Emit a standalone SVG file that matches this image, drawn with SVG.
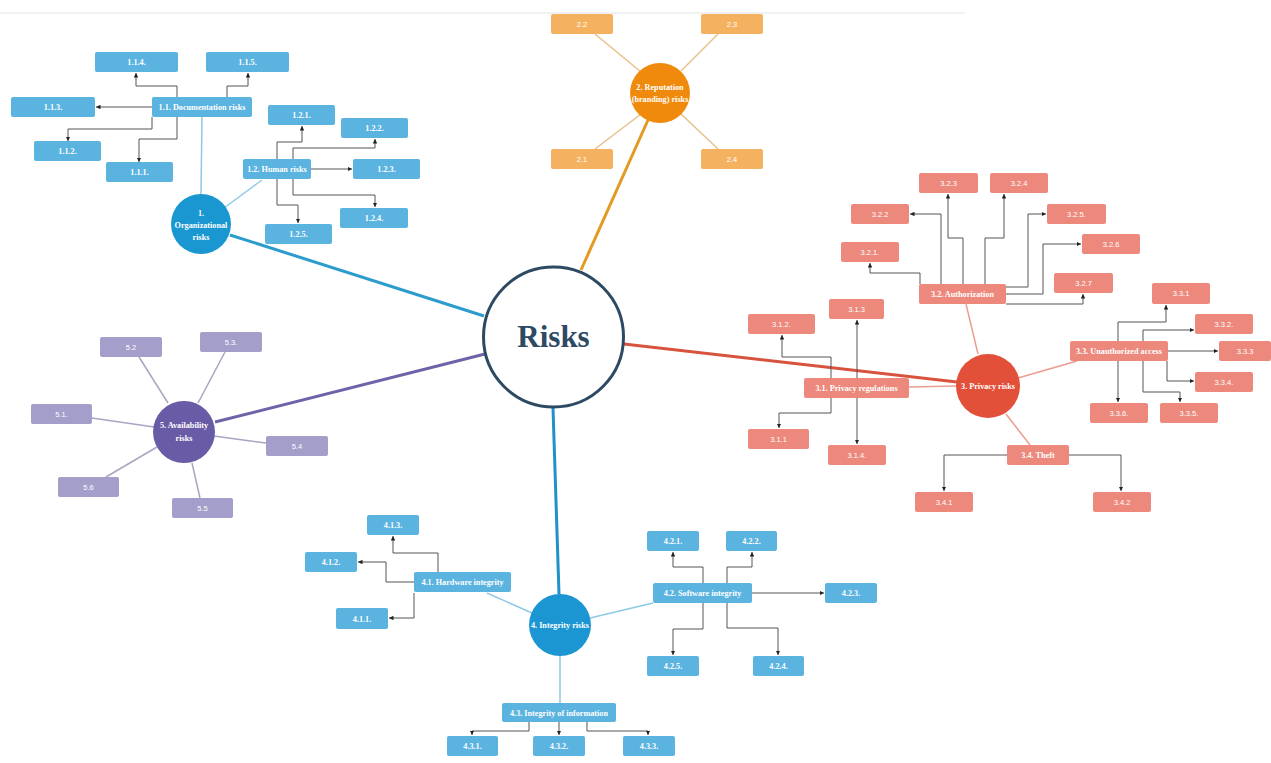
<svg xmlns="http://www.w3.org/2000/svg" width="1271" height="763" viewBox="0 0 1271 763">
<defs>
<marker id="a" viewBox="0 0 6 6" refX="6" refY="3" markerWidth="4.5" markerHeight="4.5" markerUnits="userSpaceOnUse" orient="auto"><path d="M0,0 L6,3 L0,6 z" fill="#222"/></marker>
</defs>
<style>
.bb{fill:#5bb3df}
.rb{fill:#ec897c}
.ob{fill:#f4b260}
.pb{fill:#a49ecb}
.t{font-family:"Liberation Serif",serif;font-size:8.2px;font-weight:bold;fill:#fff;text-anchor:middle}
.s{font-family:"Liberation Sans",sans-serif;font-size:7.5px;fill:#fff;text-anchor:middle}
.c{fill:none;stroke:#555;stroke-width:1;marker-end:url(#a)}
.lb{stroke:#8ec9e6;stroke-width:1.5;fill:none}
.lr{stroke:#eb9d90;stroke-width:1.5;fill:none}
.lo{stroke:#e8c08a;stroke-width:1.5;fill:none}
.lp{stroke:#a9a4c2;stroke-width:1.5;fill:none}
.ct{font-family:"Liberation Serif",serif;font-size:8.2px;font-weight:bold;fill:#fff;text-anchor:middle}
</style>
<rect width="1271" height="763" fill="#fff"/>
<line x1="0" y1="13" x2="965" y2="13" stroke="#e3e3e3" stroke-width="1"/>

<g id="connectors">
<line x1="230" y1="235" x2="484" y2="316" stroke="#2b9ccc" stroke-width="3"/>
<line x1="581" y1="270" x2="648" y2="120" stroke="#e39a22" stroke-width="3"/>
<line x1="624" y1="344" x2="957" y2="382" stroke="#d7533d" stroke-width="3"/>
<line x1="553" y1="408" x2="559" y2="594" stroke="#2191c9" stroke-width="3"/>
<line x1="485" y1="354" x2="215" y2="422" stroke="#6d63a8" stroke-width="3"/>
<line class="lb" x1="202" y1="117" x2="201" y2="194"/>
<line class="lb" x1="262" y1="180" x2="224" y2="208"/>
<polyline class="c" points="177,97 177,86 136,86 136,73"/>
<polyline class="c" points="227,97 227,86 248,86 248,73"/>
<polyline class="c" points="152,107 96,107"/>
<polyline class="c" points="152,117 152,129 68,129 68,141"/>
<polyline class="c" points="177,117 177,139 139,139 139,162"/>
<polyline class="c" points="277,159 277,142 302,142 302,126"/>
<polyline class="c" points="293,159 293,148 375,148 375,139"/>
<polyline class="c" points="311,169 352,169"/>
<polyline class="c" points="293,179 293,195 375,195 375,207"/>
<polyline class="c" points="277,179 277,205 298,205 298,223"/>
<line class="lo" x1="595" y1="34" x2="641" y2="72"/>
<line class="lo" x1="718" y1="34" x2="681" y2="71"/>
<line class="lo" x1="595" y1="149" x2="641" y2="114"/>
<line class="lo" x1="718" y1="149" x2="681" y2="114"/>
<line class="lr" x1="909" y1="387" x2="956" y2="386"/>
<line class="lr" x1="966" y1="304" x2="978" y2="354"/>
<line class="lr" x1="1077" y1="361" x2="1018" y2="378"/>
<line class="lr" x1="1030" y1="445" x2="1006" y2="414"/>
<polyline class="c" points="831,378 831,357 782,357 782,335"/>
<polyline class="c" points="857,378 857,320"/>
<polyline class="c" points="831,398 831,413 779,413 779,428"/>
<polyline class="c" points="857,398 857,444"/>
<polyline class="c" points="920,284 920,273 870,273 870,263"/>
<polyline class="c" points="941,284 941,214 910,214"/>
<polyline class="c" points="963,284 963,238 948,238 948,194"/>
<polyline class="c" points="985,284 985,238 1004,238 1004,194"/>
<polyline class="c" points="1006,287 1028,287 1028,214 1046,214"/>
<polyline class="c" points="1006,294 1043,294 1043,244 1081,244"/>
<polyline class="c" points="1006,304 1083,304 1083,294"/>
<polyline class="c" points="1118,341 1118,322 1166,322 1166,305"/>
<polyline class="c" points="1143,341 1143,330 1194,330"/>
<polyline class="c" points="1168,351 1218,351"/>
<polyline class="c" points="1167,361 1167,381 1194,381"/>
<polyline class="c" points="1143,361 1143,392 1180,392 1180,402"/>
<polyline class="c" points="1118,361 1118,402"/>
<polyline class="c" points="1007,455 944,455 944,491"/>
<polyline class="c" points="1069,455 1121,455 1121,491"/>
<line class="lb" x1="487" y1="593" x2="532" y2="613"/>
<line class="lb" x1="653" y1="603" x2="590" y2="618"/>
<line class="lb" x1="560" y1="656" x2="560" y2="703"/>
<polyline class="c" points="438,572 438,553 393,553 393,536"/>
<polyline class="c" points="414,582 386,582 386,562 358,562"/>
<polyline class="c" points="414,593 414,618 389,618"/>
<polyline class="c" points="703,583 703,567 673,567 673,552"/>
<polyline class="c" points="727,583 727,567 752,567 752,552"/>
<polyline class="c" points="752,593 824,593"/>
<polyline class="c" points="703,603 703,629 673,629 673,655"/>
<polyline class="c" points="727,603 727,628 778,628 778,655"/>
<polyline class="c" points="529,722 529,731 472,731 472,735"/>
<polyline class="c" points="559,722 559,735"/>
<polyline class="c" points="587,722 587,731 648,731 648,735"/>
<line class="lp" x1="139" y1="357" x2="168" y2="403"/>
<line class="lp" x1="225" y1="352" x2="198" y2="403"/>
<line class="lp" x1="92" y1="418" x2="154" y2="427"/>
<line class="lp" x1="214" y1="436" x2="266" y2="443"/>
<line class="lp" x1="106" y1="477" x2="157" y2="447"/>
<line class="lp" x1="192" y1="463" x2="200" y2="498"/>
</g>

<g id="risks">
<circle cx="553.5" cy="337" r="70" fill="#fff" stroke="#2e4a63" stroke-width="3"/>
<text x="553.5" y="347" font-family="Liberation Serif,serif" font-size="31" font-weight="bold" fill="#2e4a63" text-anchor="middle">Risks</text>
</g>

<g id="n1"><circle cx="201" cy="224" r="30" fill="#1a96d0"/><text class="ct" x="201" y="216">1.</text><text class="ct" x="201" y="228">Organizational</text><text class="ct" x="201" y="240">risks</text></g>
<g id="n1-1"><rect class="bb" x="152" y="97" width="100" height="20" rx="2"/><text class="t" x="202" y="110">1.1. Documentation risks</text></g>
<g id="n1-1-4"><rect class="bb" x="95" y="52" width="83" height="20" rx="2"/><text class="t" x="136.5" y="65">1.1.4.</text></g>
<g id="n1-1-5"><rect class="bb" x="206" y="52" width="83" height="20" rx="2"/><text class="t" x="247.5" y="65">1.1.5.</text></g>
<g id="n1-1-3"><rect class="bb" x="11" y="97" width="84" height="20" rx="2"/><text class="t" x="53" y="110">1.1.3.</text></g>
<g id="n1-1-2"><rect class="bb" x="34" y="141" width="67" height="20" rx="2"/><text class="t" x="67.5" y="154">1.1.2.</text></g>
<g id="n1-1-1"><rect class="bb" x="106" y="162" width="67" height="20" rx="2"/><text class="t" x="139.5" y="175">1.1.1.</text></g>
<g id="n1-2"><rect class="bb" x="243" y="159" width="68" height="20" rx="2"/><text class="t" x="277" y="172">1.2. Human risks</text></g>
<g id="n1-2-1"><rect class="bb" x="268" y="105" width="67" height="20" rx="2"/><text class="t" x="301.5" y="118">1.2.1.</text></g>
<g id="n1-2-2"><rect class="bb" x="341" y="118" width="67" height="20" rx="2"/><text class="t" x="374.5" y="131">1.2.2.</text></g>
<g id="n1-2-3"><rect class="bb" x="353" y="159" width="67" height="20" rx="2"/><text class="t" x="386.5" y="172">1.2.3.</text></g>
<g id="n1-2-4"><rect class="bb" x="340" y="208" width="68" height="20" rx="2"/><text class="t" x="374" y="221">1.2.4.</text></g>
<g id="n1-2-5"><rect class="bb" x="265" y="224" width="67" height="20" rx="2"/><text class="t" x="298.5" y="237">1.2.5.</text></g>

<g id="n2"><circle cx="660" cy="93" r="30" fill="#ef8a0c"/><text class="ct" x="660" y="90">2. Reputation</text><text class="ct" x="660" y="102">(branding) risks</text></g>
<g id="n2-2"><rect class="ob" x="551" y="14" width="62" height="20" rx="2"/><text class="s" x="582" y="26.7">2.2</text></g>
<g id="n2-3"><rect class="ob" x="701" y="14" width="62" height="20" rx="2"/><text class="s" x="732" y="26.7">2.3</text></g>
<g id="n2-1"><rect class="ob" x="551" y="149" width="62" height="20" rx="2"/><text class="s" x="582" y="161.7">2.1</text></g>
<g id="n2-4"><rect class="ob" x="701" y="149" width="62" height="20" rx="2"/><text class="s" x="732" y="161.7">2.4</text></g>

<g id="n3"><circle cx="988" cy="386" r="32" fill="#e2503a"/><text class="ct" x="988" y="389">3. Privacy risks</text></g>
<g id="n3-1"><rect class="rb" x="804" y="378" width="105" height="20" rx="2"/><text class="t" x="856.5" y="391">3.1. Privacy regulations</text></g>
<g id="n3-1-2"><rect class="rb" x="748" y="314" width="67" height="20" rx="2"/><text class="s" x="781.5" y="326.7">3.1.2.</text></g>
<g id="n3-1-3"><rect class="rb" x="829" y="299" width="55" height="20" rx="2"/><text class="s" x="856.5" y="311.7">3.1.3</text></g>
<g id="n3-1-1"><rect class="rb" x="748" y="429" width="61" height="20" rx="2"/><text class="s" x="778.5" y="441.7">3.1.1</text></g>
<g id="n3-1-4"><rect class="rb" x="828" y="445" width="58" height="20" rx="2"/><text class="s" x="857" y="457.7">3.1.4.</text></g>
<g id="n3-2"><rect class="rb" x="919" y="284" width="87" height="20" rx="2"/><text class="t" x="962.5" y="297">3.2. Authorization</text></g>
<g id="n3-2-3"><rect class="rb" x="919" y="173" width="59" height="20" rx="2"/><text class="s" x="948.5" y="185.7">3.2.3</text></g>
<g id="n3-2-4"><rect class="rb" x="990" y="173" width="58" height="20" rx="2"/><text class="s" x="1019" y="185.7">3.2.4</text></g>
<g id="n3-2-2"><rect class="rb" x="851" y="204" width="58" height="20" rx="2"/><text class="s" x="880" y="216.7">3.2.2</text></g>
<g id="n3-2-5"><rect class="rb" x="1047" y="204" width="59" height="20" rx="2"/><text class="s" x="1076.5" y="216.7">3.2.5.</text></g>
<g id="n3-2-1"><rect class="rb" x="841" y="242" width="58" height="20" rx="2"/><text class="s" x="870" y="254.7">3.2.1.</text></g>
<g id="n3-2-6"><rect class="rb" x="1082" y="234" width="58" height="20" rx="2"/><text class="s" x="1111" y="246.7">3.2.6</text></g>
<g id="n3-2-7"><rect class="rb" x="1054" y="273" width="59" height="20" rx="2"/><text class="s" x="1083.5" y="285.7">3.2.7</text></g>
<g id="n3-3"><rect class="rb" x="1070" y="341" width="98" height="20" rx="2"/><text class="t" x="1119" y="354">3.3. Unauthorized access</text></g>
<g id="n3-3-1"><rect class="rb" x="1152" y="283" width="58" height="21" rx="2"/><text class="s" x="1181" y="296.2">3.3.1</text></g>
<g id="n3-3-2"><rect class="rb" x="1195" y="314" width="58" height="20" rx="2"/><text class="s" x="1224" y="326.7">3.3.2.</text></g>
<g id="n3-3-3"><rect class="rb" x="1219" y="341" width="52" height="20" rx="2"/><text class="s" x="1245" y="353.7">3.3.3</text></g>
<g id="n3-3-4"><rect class="rb" x="1195" y="372" width="58" height="20" rx="2"/><text class="s" x="1224" y="384.7">3.3.4.</text></g>
<g id="n3-3-5"><rect class="rb" x="1160" y="403" width="58" height="20" rx="2"/><text class="s" x="1189" y="415.7">3.3.5.</text></g>
<g id="n3-3-6"><rect class="rb" x="1090" y="403" width="58" height="20" rx="2"/><text class="s" x="1119" y="415.7">3.3.6.</text></g>
<g id="n3-4"><rect class="rb" x="1007" y="445" width="62" height="20" rx="2"/><text class="t" x="1038" y="458">3.4. Theft</text></g>
<g id="n3-4-1"><rect class="rb" x="915" y="492" width="58" height="20" rx="2"/><text class="s" x="944" y="504.7">3.4.1</text></g>
<g id="n3-4-2"><rect class="rb" x="1093" y="492" width="58" height="20" rx="2"/><text class="s" x="1122" y="504.7">3.4.2</text></g>

<g id="n4"><circle cx="560" cy="625" r="31" fill="#1b96d2"/><text class="ct" x="560" y="628">4. Integrity risks</text></g>
<g id="n4-1"><rect class="bb" x="414" y="572" width="97" height="20" rx="2"/><text class="t" x="462.5" y="585">4.1. Hardware integrity</text></g>
<g id="n4-1-3"><rect class="bb" x="367" y="515" width="52" height="20" rx="2"/><text class="t" x="393" y="528">4.1.3.</text></g>
<g id="n4-1-2"><rect class="bb" x="305" y="552" width="52" height="20" rx="2"/><text class="t" x="331" y="565">4.1.2.</text></g>
<g id="n4-1-1"><rect class="bb" x="336" y="608" width="52" height="21" rx="2"/><text class="t" x="362" y="621.5">4.1.1.</text></g>
<g id="n4-2"><rect class="bb" x="653" y="583" width="99" height="20" rx="2"/><text class="t" x="702.5" y="596">4.2. Software integrity</text></g>
<g id="n4-2-1"><rect class="bb" x="647" y="531" width="52" height="20" rx="2"/><text class="t" x="673" y="544">4.2.1.</text></g>
<g id="n4-2-2"><rect class="bb" x="726" y="531" width="51" height="20" rx="2"/><text class="t" x="751.5" y="544">4.2.2.</text></g>
<g id="n4-2-3"><rect class="bb" x="825" y="583" width="52" height="20" rx="2"/><text class="t" x="851" y="596">4.2.3.</text></g>
<g id="n4-2-5"><rect class="bb" x="647" y="656" width="52" height="20" rx="2"/><text class="t" x="673" y="669">4.2.5.</text></g>
<g id="n4-2-4"><rect class="bb" x="753" y="656" width="51" height="20" rx="2"/><text class="t" x="778.5" y="669">4.2.4.</text></g>
<g id="n4-3"><rect class="bb" x="502" y="703" width="114" height="19" rx="2"/><text class="t" x="559" y="715.5">4.3. Integrity of information</text></g>
<g id="n4-3-1"><rect class="bb" x="447" y="736" width="51" height="20" rx="2"/><text class="t" x="472.5" y="749">4.3.1.</text></g>
<g id="n4-3-2"><rect class="bb" x="533" y="736" width="52" height="20" rx="2"/><text class="t" x="559" y="749">4.3.2.</text></g>
<g id="n4-3-3"><rect class="bb" x="623" y="736" width="52" height="20" rx="2"/><text class="t" x="649" y="749">4.3.3.</text></g>

<g id="n5"><circle cx="184" cy="432" r="31" fill="#6a5ba6"/><text class="ct" x="184" y="428">5. Availability</text><text class="ct" x="184" y="440.5">risks</text></g>
<g id="n5-2"><rect class="pb" x="100" y="337" width="62" height="20" rx="2"/><text class="s" x="131" y="349.7">5.2</text></g>
<g id="n5-3"><rect class="pb" x="200" y="332" width="62" height="20" rx="2"/><text class="s" x="231" y="344.7">5.3.</text></g>
<g id="n5-1"><rect class="pb" x="31" y="404" width="61" height="20" rx="2"/><text class="s" x="61.5" y="416.7">5.1.</text></g>
<g id="n5-4"><rect class="pb" x="266" y="436" width="62" height="20" rx="2"/><text class="s" x="297" y="448.7">5.4</text></g>
<g id="n5-6"><rect class="pb" x="58" y="477" width="61" height="20" rx="2"/><text class="s" x="88.5" y="489.7">5.6</text></g>
<g id="n5-5"><rect class="pb" x="172" y="498" width="61" height="20" rx="2"/><text class="s" x="202.5" y="510.7">5.5</text></g>
</svg>
